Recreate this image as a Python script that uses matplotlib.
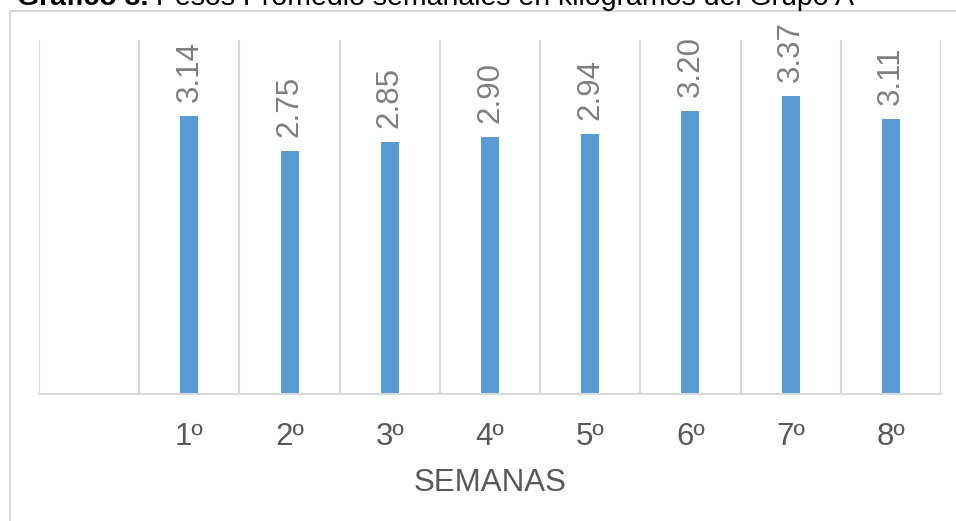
import matplotlib
matplotlib.use("Agg")
import matplotlib.pyplot as plt
from matplotlib.patches import Rectangle

plt.rcParams['font.family'] = ['Liberation Sans', 'DejaVu Sans']

categories = ["", "1º", "2º", "3º", "4º", "5º", "6º", "7º", "8º"]
values = [None, 3.14, 2.75, 2.85, 2.90, 2.94, 3.20, 3.37, 3.11]
value_labels = ["", "3.14", "2.75", "2.85", "2.90", "2.94", "3.20", "3.37", "3.11"]
xlabel = "SEMANAS"
title_bold = "Gráfico 3."
title_rest = " Pesos Promedio semanales en kilogramos del Grupo A"

W, H = 956, 521
fig = plt.figure(figsize=(W / 100, H / 100), dpi=100)
fig.patch.set_facecolor("white")

# chart area frame (extends beyond right/bottom edges)
fig.patches.append(Rectangle((10 / W, -0.2), 1.5, (H - 11) / H + 0.2,
                             transform=fig.transFigure, fill=False,
                             edgecolor="#D9D9D9", lw=1.5))

ax = fig.add_axes([39 / W, (H - 394) / H, (941 - 39) / W, (394 - 40) / H])

xs = list(range(len(categories)))
bx = [x for x, v in zip(xs, values) if v is not None]
bv = [v for v in values if v is not None]
bl = [l for l, v in zip(value_labels, values) if v is not None]
ax.bar(bx, bv, width=0.18, color="#5B9BD5", zorder=3)

for x, v, l in zip(bx, bv, bl):
    ax.annotate(l, (x, v), xytext=(0, 10), textcoords="offset points",
                rotation=90, ha="center", va="bottom", fontsize=22.5,
                color="#7F7F7F")

ax.set_xlim(-0.5, len(categories) - 0.5)
ax.set_ylim(0, 4)
ax.set_yticks([])
ax.set_xticks(xs)
ax.set_xticklabels(categories, fontsize=22.5, color="#595959")
ax.tick_params(axis="x", length=0, pad=20)
ax.set_xticks([x - 0.5 for x in xs] + [len(categories) - 0.5], minor=True)
ax.tick_params(axis="x", which="minor", length=0)
ax.grid(axis="x", which="minor", color="#D9D9D9", lw=1.5, zorder=0)
for s in ["top", "right", "left"]:
    ax.spines[s].set_visible(False)
ax.spines["bottom"].set_color("#D9D9D9")
ax.spines["bottom"].set_linewidth(1.5)
ax.spines["bottom"].set_zorder(4)
ax.set_xlabel(xlabel, fontsize=22.5, color="#595959", labelpad=12)

# title (cut at top, as in the reference)
ty = 1 - 5 / H
t1 = fig.text(17 / W, ty, title_bold, fontsize=20.5, fontweight="bold",
              va="baseline", ha="left", color="black")
fig.canvas.draw()
bb = t1.get_window_extent(fig.canvas.get_renderer())
fig.text(bb.x1 / W, ty, title_rest, fontsize=20.5, va="baseline",
         ha="left", color="black")

fig.savefig("out.png", dpi=100, facecolor="white")
